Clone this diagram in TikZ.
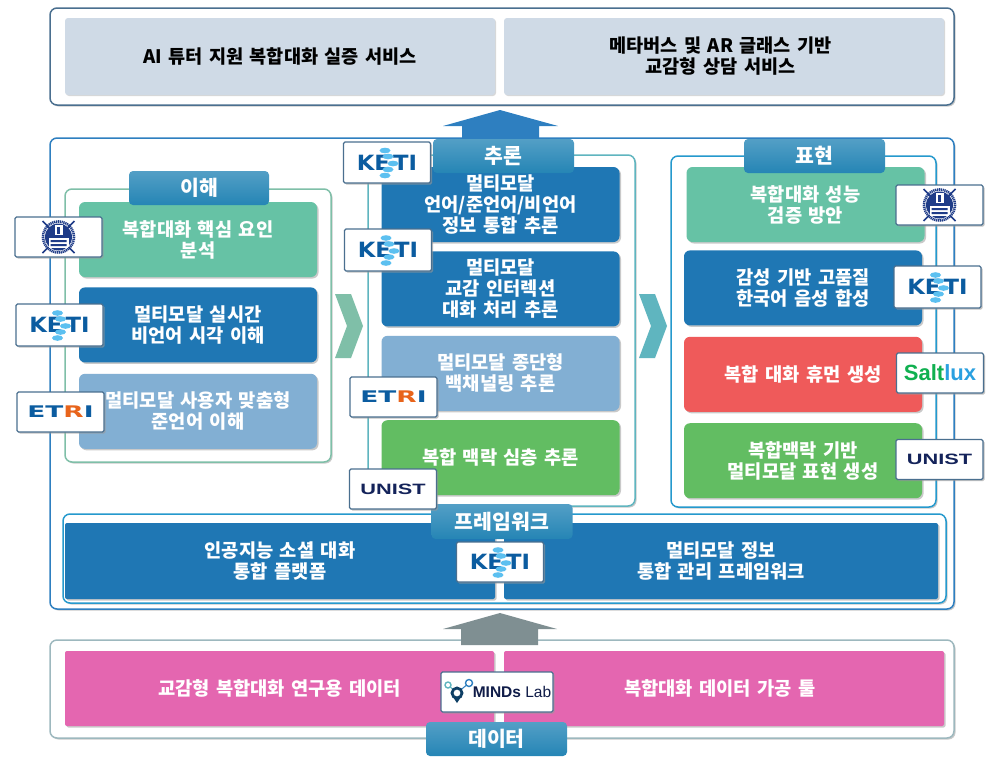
\documentclass[tikz,border=0pt]{standalone}
\usepackage{fontspec}
\usepackage{graphicx}
\usepackage{xcolor}
\setmainfont{Noto Sans CJK KR}[WordSpace=1.5]
\newfontfamily\logofont{Liberation Sans}
\newfontfamily\etrifont{DejaVu Sans}
\usetikzlibrary{arrows.meta, positioning, shadows, shapes.geometric}

\definecolor{panelline}{HTML}{4A6F8F}
\definecolor{mainline}{HTML}{2E7FC0}
\definecolor{greenline}{HTML}{7FBFA8}
\definecolor{tealline}{HTML}{5FB5BF}
\definecolor{greyline}{HTML}{9DB8BE}
\definecolor{arrowgrey}{HTML}{7F8F92}
\definecolor{mintbox}{HTML}{66C2A5}
\definecolor{bluebox}{HTML}{1F77B4}
\definecolor{palebox}{HTML}{82AFD3}
\definecolor{leafbox}{HTML}{62BD62}
\definecolor{redbox}{HTML}{EF5A5A}
\definecolor{pinkbox}{HTML}{E466B0}
\definecolor{greybox}{HTML}{CFDAE6}
\definecolor{ketiblue}{HTML}{0B5CA0}
\definecolor{ketidot}{HTML}{5CC0F0}
\definecolor{etriorange}{HTML}{E8641B}
\definecolor{snublue}{HTML}{1F3C88}
\definecolor{uninavy}{HTML}{14235A}
\definecolor{saltgreen}{HTML}{10B050}
\definecolor{saltblue}{HTML}{2AA0E0}
\definecolor{HeaderTop}{HTML}{539FC6}
\definecolor{HeaderBot}{HTML}{2585B5}

% Logo texts
\newcommand{\ketilogo}{\scalebox{1.08}[1]{\etrifont\fontsize{21}{21}\selectfont\bfseries\textcolor{ketiblue}{KE\hspace{3pt}TI}}}
\newcommand{\etrilogo}{\scalebox{1.65}[1]{\etrifont\fontsize{16}{16}\selectfont\bfseries\textcolor{ketiblue}{ET}\textcolor{etriorange}{R}\textcolor{ketiblue}{I}}}
\newcommand{\unistlogo}{\scalebox{1.45}[1]{\logofont\fontsize{15}{15}\selectfont\bfseries\textcolor{uninavy}{UNIST}}}
% Dots over the KETI logo
\newcommand{\ketidots}[1]{
    \begin{scope}[shift={(#1.center)}]
        \foreach \dx/\dy in {-2/-12, 1/-6, 6/1, 1/7, -2/13}
            \fill[ketidot] (\dx,\dy) ellipse (5.5 and 2.8);
    \end{scope}
}
% Seal inside the SNU logo
\newcommand{\snuseal}[1]{
    \begin{scope}[shift={(#1.center)}]
        \draw[snublue, line width=2.6pt, dash pattern=on 1.2pt off 0.7pt] (0,0) circle (15.5);
        \fill[snublue] (0,0) circle (13.5);
        \fill[white] (-4,-12) rectangle (4,-2);
        \fill[snublue] (-1.2,-10) rectangle (1.2,-3);
        \fill[white] (-10,1) rectangle (10,11);
        \fill[snublue] (-8,3) rectangle (8,5) (-8,7) rectangle (8,9);
        \draw[snublue, line width=1.5pt] (-16,-16) -- (-9,-9) (16,-16) -- (9,-9) (-16,16) -- (-10,10) (16,16) -- (10,10);
    \end{scope}
}

\begin{document}
\begin{tikzpicture}[
        x=1pt, y=-1pt,
        % Panel styles
        panel/.style={rectangle, draw=#1, line width=1.5pt, fill=white, rounded corners=7pt,
                      drop shadow={shadow xshift=1.5pt, shadow yshift=-1.5pt, fill=black!35, opacity=0.6}},
        % Box styles
        item/.style={rectangle, fill=#1, rounded corners=6pt, minimum width=238pt, minimum height=75pt,
                     inner sep=0pt, text=white, align=center, font=\fontsize{18.7}{21}\selectfont\bfseries,
                     drop shadow={shadow xshift=1.5pt, shadow yshift=-1.5pt, fill=black!35, opacity=0.6}},
        wide/.style={item=#1, rounded corners=2pt, minimum height=76pt},
        service/.style={rectangle, fill=greybox, rounded corners=3pt, minimum height=77pt, inner sep=0pt, align=center,
                        font=\fontsize{18.6}{21}\selectfont\bfseries,
                        drop shadow={shadow xshift=1pt, shadow yshift=-1pt, fill=black!25, opacity=0.6}},
        header/.style={rectangle, top color=HeaderTop, bottom color=HeaderBot, rounded corners=4pt,
                       minimum width=141pt, minimum height=34pt, inner sep=0pt, text=white,
                       font=\fontsize{20.5}{20.5}\selectfont\bfseries},
        logo/.style={rectangle, draw=panelline, line width=1.2pt, fill=white, rounded corners=1.5pt,
                     minimum width=87pt, minimum height=40pt, inner sep=0pt,
                     drop shadow={shadow xshift=1.5pt, shadow yshift=-1.5pt, fill=black!40, opacity=0.6}}
    ]
        \useasboundingbox (0,0) rectangle (996,764);

        % Outer panels
        \draw[panel=panelline] (50,8) rectangle (954,105);
        \draw[panel=mainline] (50,138) rectangle (954,609);
        \draw[panel=greyline] (50,640) rectangle (954,738);

        % Service boxes
        \node[service, minimum width=430pt] (tutor) at (280,56.5) {AI 튜터 지원 복합대화 실증 서비스};
        \node[service, minimum width=440pt] (meta) at (724,56.5) {\hspace*{-7pt}메타버스 및 AR 글래스 기반\\\hspace*{-7pt}교감형 상담 서비스};

        % Arrows between layers
        \fill[mainline] (500,110) -- (558,126) -- (539,126) -- (539,141) -- (462,141) -- (462,126) -- (443,126) -- cycle;
        \fill[arrowgrey] (500,613) -- (557,629) -- (538,629) -- (538,645) -- (461,645) -- (461,629) -- (443,629) -- cycle;

        % Inner panels
        \draw[panel=greenline] (65,189) rectangle (331,462);
        \draw[panel=tealline] (368,155) rectangle (635,506);
        \draw[panel=mainline!80!cyan] (671,156) rectangle (936,507);
        \draw[panel=mainline!80!cyan] (63,514) rectangle (946,603);

        % Chevrons
        \fill[greenline] (335,294) -- (351,294) -- (363,326) -- (351,358) -- (335,358) -- (347,326) -- cycle;
        \fill[tealline] (639,294) -- (655,294) -- (667,326) -- (655,358) -- (639,358) -- (651,326) -- cycle;

        % Understanding column
        \node[item=mintbox] (coreinfo) at (198,239.5) {복합대화 핵심 요인\\분석};
        \node[item=bluebox, below=10pt of coreinfo] (visual) {멀티모달 실시간\\비언어 시각 이해};
        \node[item=palebox, below=11pt of visual] (paraling) {멀티모달 사용자 맞춤형\\준언어 이해};

        % Inference column
        \node[item=bluebox] (fusion) at (500.5,204.5) {멀티모달\\언어/준언어/비언어\\정보 통합 추론};
        \node[item=bluebox, below=9pt of fusion] (empathy) {멀티모달\\교감 인터렉션\\대화 처리 추론};
        \node[item=palebox, below=9pt of empathy] (backchannel) {멀티모달 종단형\\백채널링 추론};
        \node[item=leafbox, below=9pt of backchannel] (context) {복합 맥락 심층 추론};

        % Expression column
        \node[item=mintbox] (verify) at (805.5,204.5) {복합대화 성능\\검증 방안};
        \node[item=bluebox, xshift=-2.5pt, below=8pt of verify] (speech) {감성 기반 고품질\\한국어 음성 합성};
        \node[item=redbox, below=11pt of speech] (human) {복합 대화 휴먼 생성};
        \node[item=leafbox, below=11pt of human] (express) {복합맥락 기반\\멀티모달 표현 생성};

        % Framework boxes
        \node[wide=bluebox, minimum width=430pt] (platform) at (280,561) {인공지능 소셜 대화\\통합 플랫폼};
        \node[wide=bluebox, minimum width=434pt] (manage) at (721,561) {멀티모달 정보\\통합 관리 프레임워크};

        % Data boxes
        \node[wide=pinkbox, minimum width=429pt, minimum height=75pt] (corpus) at (279.5,688.5) {교감형 복합대화 연구용 데이터};
        \node[wide=pinkbox, minimum width=440pt, minimum height=75pt] (tool) at (724,688.5) {\hspace*{-8pt}복합대화 데이터 가공 툴};

        % Column headers
        \node[header, minimum width=140pt] (understand) at (199,188) {이해};
        \node[header] (infer) at (503.5,156) {추론};
        \node[header] (present) at (814.5,156) {표현};
        \node[header, minimum height=35pt] (framework) at (502,521.5) {프레임워크};
        \node[header] (dataset) at (496.5,739) {데이터};

        % Logos
        \node[logo] (snuleft) at (58.5,237) {};
        \snuseal{snuleft}
        \node[logo, minimum height=42pt] (ketileft) at (59.5,325) {\ketilogo};
        \ketidots{ketileft}
        \node[logo] (etrileft) at (60.5,412) {\etrilogo};

        \node[logo, minimum height=41pt] (ketifusion) at (387,162.5) {\ketilogo};
        \ketidots{ketifusion}
        \node[logo, minimum height=42pt] (ketiempathy) at (388,250) {\ketilogo};
        \ketidots{ketiempathy}
        \node[logo] (etrimid) at (393.5,397) {\etrilogo};
        \node[logo] (unistmid) at (393,489) {\unistlogo};

        \node[logo] (snuright) at (939.5,205) {};
        \snuseal{snuright}
        \node[logo, minimum height=42pt] (ketiright) at (937.5,287) {\ketilogo};
        \ketidots{ketiright}
        \node[logo] (saltlux) at (940,373) {\logofont\fontsize{22}{22}\selectfont\bfseries\textcolor{saltgreen}{Salt}\textcolor{saltblue}{lux}};
        \node[logo] (unistright) at (939.5,459.5) {\unistlogo};

        \node[logo] (ketiplatform) at (500,562) {\ketilogo};
        \ketidots{ketiplatform}

        \node[logo, minimum width=112pt] (minds) at (497,692) {\hspace*{30pt}\logofont\fontsize{15.5}{15.5}\selectfont\textcolor{uninavy!80!black}{\textbf{MINDs} Lab}};
        % Rings of the MINDs Lab logo
        \begin{scope}[shift={(minds.center)}]
            \draw[mainline, line width=1pt] (-28,-9) -- (-40,1);
            \draw[tealline, line width=1pt] (-49,-7) -- (-40,1);
            \draw[tealline, fill=white, line width=1.4pt] (-49,-7) circle (3);
            \draw[mainline, fill=white, line width=1.4pt] (-28,-9) circle (3.5);
            \fill[uninavy!70!teal] (-44,5) -- (-36,5) -- (-40,11) -- cycle;
            \draw[uninavy!70!teal, fill=white, line width=2.8pt] (-40,1) circle (5);
        \end{scope}
    \end{tikzpicture}
\end{document}
